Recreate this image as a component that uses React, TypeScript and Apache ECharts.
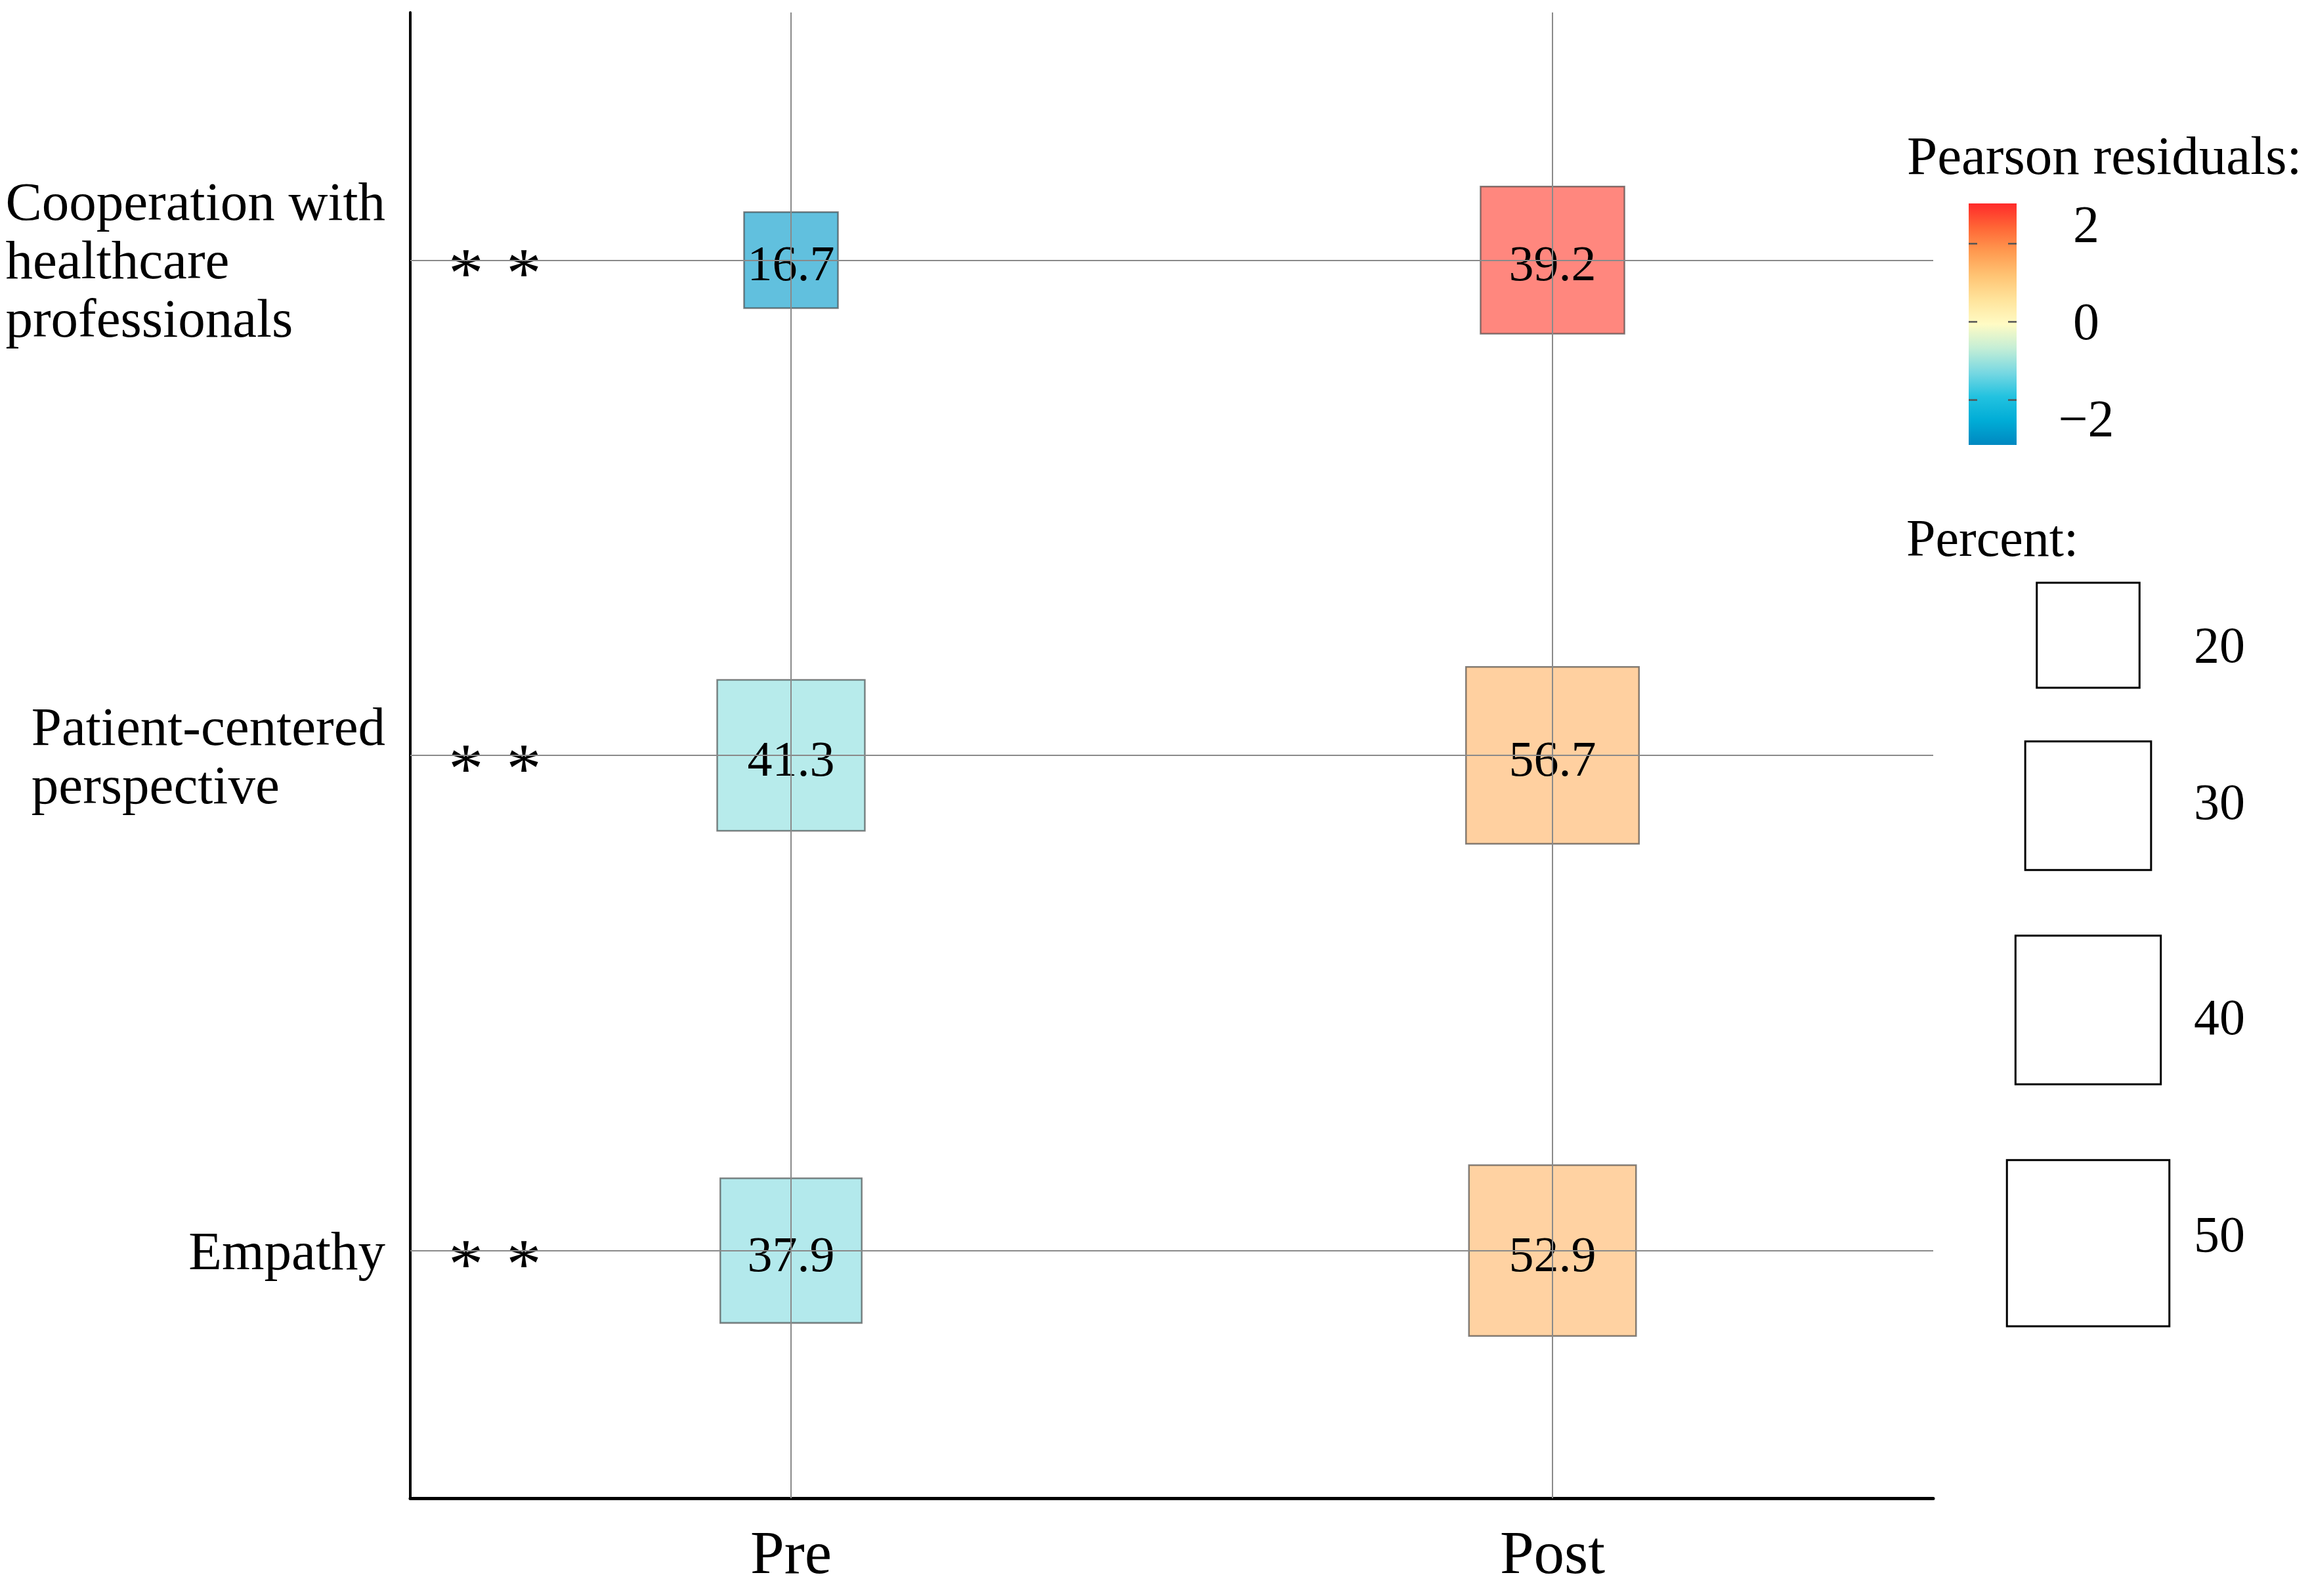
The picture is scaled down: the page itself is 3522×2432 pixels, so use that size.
import React, { useEffect, useRef } from "react";
import * as echarts from "echarts";

// ---------- data ----------
const rowLabels = [
  "Cooperation with\nhealthcare\nprofessionals",
  "Patient-centered\nperspective",
  "Empathy",
];
const timeLabels = ["Pre", "Post"];
const prePercent = [16.7, 41.3, 37.9];
const postPercent = [39.2, 56.7, 52.9];
const preResidual = [-2.86, -1.14, -1.2];
const postResidual = [2.82, 1.42, 1.37];
const significance = ["* *", "* *", "* *"];
const legendPercents = [20, 30, 40, 50];
const residualTicks = [2, 0, -2];
const residualTickLabels = ["2", "0", "\u22122"];
const residualMin = -3.15;
const residualMax = 3.03;
const residualColors = [
  "#0088c0",
  "#00acd6",
  "#22c2e0",
  "#78d8e2",
  "#c4eed6",
  "#fffbc4",
  "#ffe49c",
  "#ffc474",
  "#ff9a50",
  "#ff6636",
  "#ff2a2a",
];

const FONT = "Liberation Serif";
const sizeOf = (p: number) => [35.0 * Math.sqrt(p), 35.8 * Math.sqrt(p)];

export default function App() {
  const ref = useRef<HTMLDivElement>(null);

  useEffect(() => {
    const chart = echarts.init(ref.current!, null, { renderer: "svg" });

    const scatterData: any[] = [];
    rowLabels.forEach((r, i) => {
      scatterData.push([timeLabels[0], r, prePercent[i], preResidual[i]]);
      scatterData.push([timeLabels[1], r, postPercent[i], postResidual[i]]);
    });

    // colour bar
    const barX = 2999,
      barTop = 310,
      barW = 73,
      barH = 368;
    const yOf = (v: number) =>
      barTop + barH - ((v - residualMin) / (residualMax - residualMin)) * barH;
    const stops = residualColors.map((c, i) => ({
      offset: i / (residualColors.length - 1),
      color: c,
    }));
    const graphics: any[] = [
      {
        type: "text",
        x: 2905,
        y: 237,
        style: {
          text: "Pearson residuals:",
          font: `83px "${FONT}"`,
          fill: "#000",
          verticalAlign: "middle",
        },
      },
      {
        type: "rect",
        shape: { x: barX, y: barTop, width: barW, height: barH },
        style: { fill: new echarts.graphic.LinearGradient(0, 1, 0, 0, stops) },
      },
    ];
    residualTicks.forEach((t, i) => {
      const y = yOf(t);
      graphics.push({
        type: "line",
        shape: { x1: barX, y1: y, x2: barX + 13, y2: y },
        style: { stroke: "#555", lineWidth: 2.5 },
      });
      graphics.push({
        type: "line",
        shape: { x1: barX + barW - 13, y1: y, x2: barX + barW, y2: y },
        style: { stroke: "#555", lineWidth: 2.5 },
      });
      const off = t > 0 ? -29 : t < 0 ? 28 : 0;
      graphics.push({
        type: "text",
        x: 3178,
        y: y + off,
        style: {
          text: residualTickLabels[i],
          font: `80px "${FONT}"`,
          fill: "#000",
          align: "center",
          verticalAlign: "middle",
        },
      });
    });
    graphics.push({
      type: "text",
      x: 2904,
      y: 820,
      style: {
        text: "Percent:",
        font: `80px "${FONT}"`,
        fill: "#000",
        verticalAlign: "middle",
      },
    });
    let yTop = 888;
    const labelShift = [14, -6, 10, -14];
    legendPercents.forEach((p, i) => {
      const [w, h] = sizeOf(p);
      const cy = yTop + h / 2;
      graphics.push({
        type: "rect",
        shape: { x: 3181 - w / 2, y: yTop, width: w, height: h },
        style: { fill: "#fff", stroke: "#000", lineWidth: 3 },
      });
      graphics.push({
        type: "text",
        x: 3381,
        y: cy + labelShift[i],
        style: {
          text: String(p),
          font: `78px "${FONT}"`,
          fill: "#000",
          align: "center",
          verticalAlign: "middle",
        },
      });
      yTop += h * 1.51;
    });

    const option: any = {
      animation: false,
      backgroundColor: "#fff",
      grid: {
        left: 625,
        right: 577,
        top: 19,
        bottom: 149,
        containLabel: false,
        outerBoundsMode: "none",
      },
      xAxis: {
        type: "category",
        data: timeLabels,
        axisLine: { lineStyle: { color: "#000", width: 5 } },
        axisTick: { show: false },
        splitLine: { show: false },
        axisLabel: { fontFamily: FONT, fontSize: 93, color: "#000", margin: 36 },
      },
      yAxis: [
        {
          type: "category",
          data: rowLabels,
          inverse: true,
          position: "left",
          axisLine: { lineStyle: { color: "#000", width: 4 } },
          axisTick: { show: false },
          splitLine: { show: false },
          axisLabel: {
            margin: 38,
            color: "#000",
            fontFamily: FONT,
            fontSize: 83,
            formatter: (v: string) =>
              v
                .split("\n")
                .map((s) => `{a|${s}}`)
                .join("\n"),
            rich: {
              a: { align: "left", fontFamily: FONT, fontSize: 83, lineHeight: 89, color: "#000" },
            },
          },
        },
        {
          type: "category",
          data: rowLabels,
          inverse: true,
          position: "left",
          axisLine: { show: false },
          axisTick: { show: false },
          splitLine: { show: false },
          axisLabel: {
            inside: true,
            margin: 54,
            color: "#000",
            fontFamily: FONT,
            fontSize: 107,
            padding: [40, 0, 0, 0],
            formatter: (_v: string, i: number) =>
              significance[i]
                .split(" ")
                .map((s) => `{s|${s}}`)
                .join(" "),
            rich: {
              s: { fontFamily: FONT, fontSize: 107, color: "#000", padding: [0, 4, 0, 4] },
            },
          },
        },
      ],
      visualMap: {
        type: "continuous",
        show: false,
        seriesIndex: 0,
        dimension: 3,
        min: residualMin,
        max: residualMax,
        inRange: { color: residualColors },
      },
      series: [
        {
          type: "scatter",
          z: 3,
          data: scatterData,
          encode: { x: 0, y: 1 },
          symbol: "rect",
          symbolSize: (val: any) => sizeOf(val[2]),
          itemStyle: { borderColor: "#3a3a3a", borderWidth: 2.5, opacity: 0.62 },
          label: {
            show: true,
            position: "inside",
            offset: [0, 5],
            opacity: 1,
            formatter: (p: any) => p.value[2].toFixed(1),
            fontFamily: FONT,
            fontSize: 76,
            color: "#000",
          },
          silent: true,
        },
        {
          type: "scatter",
          z: 1,
          data: [],
          markLine: {
            silent: true,
            symbol: ["none", "none"],
            label: { show: false },
            lineStyle: { color: "#8a8a8a", width: 2, type: "solid" },
            data: [
              ...rowLabels.map((r) => ({ yAxis: r })),
              ...timeLabels.map((t) => ({ xAxis: t })),
            ],
          },
        },
      ],
      graphic: graphics,
    };

    chart.setOption(option);
    return () => chart.dispose();
  }, []);

  return (
    <div
      ref={ref}
      style={{ position: "fixed", left: 0, top: 0, width: 3522, height: 2432, background: "#fff" }}
    />
  );
}
